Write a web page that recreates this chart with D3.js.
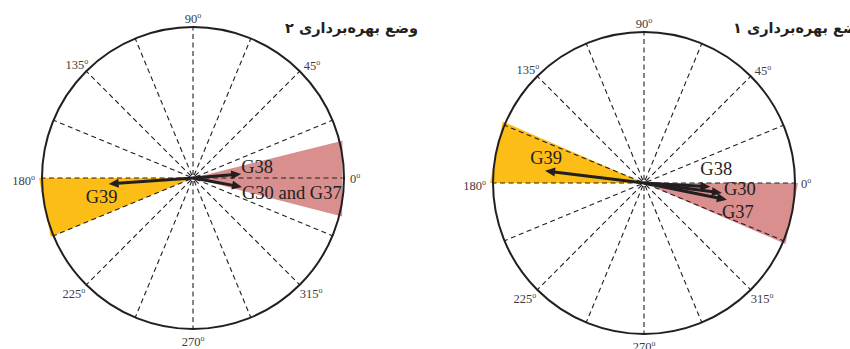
<!DOCTYPE html>
<html>
<head>
<meta charset="utf-8">
<script src="https://cdn.jsdelivr.net/npm/d3@7"></script>
<style>
  html, body { margin: 0; padding: 0; background: #fff; }
  svg { display: block; }
  text { -webkit-font-smoothing: antialiased; }
</style>
</head>
<body>
<svg id="chart" width="850" height="349"></svg>
<script>
// ---- data ----
const tickAngles = [0, 45, 90, 135, 180, 225, 270, 315];

// Operating mode 2 (left panel)
const title2 = "وضع بهره‌برداری ۲";
const vectorNames2 = ["G38", "G30 and G37", "G39"];
const vectorAngles2 = [4.7, -10.4, 184];
const vectorLengths2 = [0.32, 0.33, 0.56];
const sectorStart2 = [-14.5, 180];
const sectorEnd2 = [14, 202.5];
const sectorKind2 = ["pink", "yellow"];

// Operating mode 1 (right panel)
const title1 = "وضع بهره‌برداری ۱";
const vectorNames1 = ["G39", "G38", "G30", "G37"];
const vectorAngles1 = [173, -3.2, -7.3, -11.4];
const vectorLengths1 = [0.66, 0.44, 0.52, 0.56];
const sectorStart1 = [156.5, -23.3];
const sectorEnd1 = [180, 0];
const sectorKind1 = ["yellow", "pink"];

// ---- styling / layout ----
const ink = "#231f20";
const fills = { pink: "#d98f8e", yellow: "#fcbd16" };
const R = 151;
const panels = [
  {
    cx: 193, cy: 178, title: title2, titleX: 418, titleY: 33,
    names: vectorNames2, angles: vectorAngles2, lengths: vectorLengths2,
    sStart: sectorStart2, sEnd: sectorEnd2, sKind: sectorKind2,
    labelPos: { "G38": [0, -1, "start"], "G30 and G37": [0, 12, "start"], "G39": [-7, 19, "middle"] }
  },
  {
    cx: 644, cy: 183, title: title1, titleX: 866, titleY: 33,
    names: vectorNames1, angles: vectorAngles1, lengths: vectorLengths1,
    sStart: sectorStart1, sEnd: sectorEnd1, sKind: sectorKind1,
    labelPos: { "G39": [1, -7, "middle"], "G38": [-10, -12, "start"], "G30": [2, 2, "start"], "G37": [-5, 18, "start"] }
  }
];

// tick label placement relative to the rim point
const tickPlace = {
  0:   { dx: 6,  dy: 5,   anchor: "start" },
  45:  { dx: 4,  dy: -1,  anchor: "start" },
  90:  { dx: 0,  dy: -4.5, anchor: "middle" },
  135: { dx: 2,  dy: -2.5, anchor: "end" },
  180: { dx: -7, dy: 6.5, anchor: "end" },
  225: { dx: -1, dy: 13,  anchor: "end" },
  270: { dx: 0,  dy: 17,  anchor: "middle" },
  315: { dx: 0,  dy: 13,  anchor: "start" }
};

const svg = d3.select("#chart");
const rScale = d3.scaleLinear().domain([0, 1]).range([0, R]);
const rad = d => d * Math.PI / 180;

panels.forEach(p => {
  const g = svg.append("g").attr("transform", `translate(${p.cx},${p.cy})`);
  const pt = (deg, r) => [r * Math.cos(rad(deg)), -r * Math.sin(rad(deg))];

  // shaded angular sectors
  g.selectAll("path.sector")
    .data(p.sStart.map((s, i) => ({ s, e: p.sEnd[i], kind: p.sKind[i] })))
    .join("path")
    .attr("class", "sector")
    .attr("d", d => {
      const a = pt(d.s, rScale(1.02)), b = pt(d.e, rScale(1.02));
      return `M0,0L${a[0]},${a[1]}L${b[0]},${b[1]}Z`;
    })
    .attr("fill", d => fills[d.kind]);

  // dashed radial grid every 22.5 degrees
  g.selectAll("line.grid")
    .data(d3.range(0, 360, 22.5))
    .join("line")
    .attr("class", "grid")
    .attr("x1", d => pt(d, 3)[0]).attr("y1", d => pt(d, 3)[1])
    .attr("x2", d => pt(d, rScale(1))[0]).attr("y2", d => pt(d, rScale(1))[1])
    .attr("stroke", ink)
    .attr("stroke-width", 1.1)
    .attr("stroke-dasharray", "5,3.5");

  // outer circle
  g.append("circle")
    .attr("r", rScale(1))
    .attr("fill", "none")
    .attr("stroke", ink)
    .attr("stroke-width", 2);

  // angle labels
  tickAngles.forEach(a => {
    const q = pt(a, rScale(1));
    const tp = tickPlace[a];
    const t = g.append("text")
      .attr("x", q[0] + tp.dx)
      .attr("y", q[1] + tp.dy)
      .attr("text-anchor", tp.anchor)
      .attr("font-family", "Liberation Serif, Times New Roman, serif")
      .attr("font-size", 12.5)
      .attr("fill", "#3c3c3c");
    t.append("tspan").text(a);
    t.append("tspan").attr("font-size", 8).attr("dy", -5).text("o");
  });

  // vectors
  const vec = p.names.map((n, i) => ({ n, a: p.angles[i], l: p.lengths[i] }));
  const head = 10, halfW = 4.5;
  vec.forEach(v => {
    const tip = pt(v.a, rScale(v.l));
    const base = pt(v.a, rScale(v.l) - head + 1);
    const ux = Math.cos(rad(v.a)), uy = -Math.sin(rad(v.a));
    const hb = pt(v.a, rScale(v.l) - head);
    g.append("line")
      .attr("x1", 0).attr("y1", 0)
      .attr("x2", base[0]).attr("y2", base[1])
      .attr("stroke", ink)
      .attr("stroke-width", 3);
    g.append("path")
      .attr("d", `M${tip[0]},${tip[1]}L${hb[0] - uy * halfW},${hb[1] + ux * halfW}L${hb[0] + uy * halfW},${hb[1] - ux * halfW}Z`)
      .attr("fill", ink);
  });

  // vector labels
  vec.forEach(v => {
    const tip = pt(v.a, rScale(v.l));
    const lp = p.labelPos[v.n];
    g.append("text")
      .attr("x", tip[0] + lp[0])
      .attr("y", tip[1] + lp[1])
      .attr("text-anchor", lp[2])
      .attr("font-family", "Liberation Serif, Times New Roman, serif")
      .attr("font-size", 18.5)
      .attr("fill", ink)
      .text(v.n);
  });

  // panel title
  svg.append("text")
    .attr("x", p.titleX)
    .attr("y", p.titleY)
    .attr("text-anchor", "end")
    .attr("font-family", "DejaVu Sans, sans-serif")
    .attr("font-weight", "bold")
    .attr("font-size", 14.5)
    .attr("fill", ink)
    .text(p.title);
});
</script>
</body>
</html>
